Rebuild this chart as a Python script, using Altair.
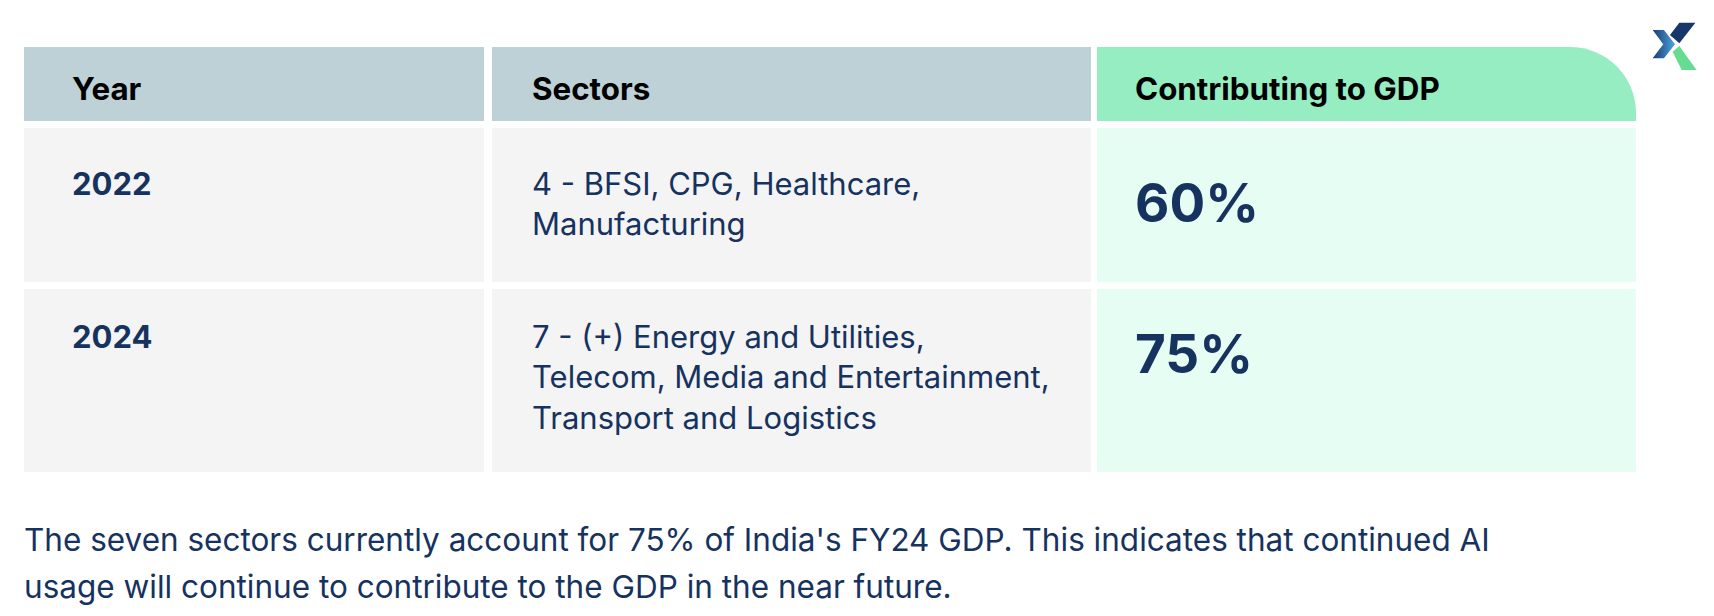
import altair as alt
import pandas as pd

# ---------------- data ----------------
headers = ["Year", "Sectors", "Contributing to GDP"]
years = ["2022", "2024"]
sectors = [
    "4 - BFSI, CPG, Healthcare,\nManufacturing",
    "7 - (+) Energy and Utilities,\nTelecom, Media and Entertainment,\nTransport and Logistics",
]
gdp_share = [60, 75]
footer = [
    "The seven sectors currently account for 75% of India's FY24 GDP. This indicates that continued AI",
    "usage will continue to contribute to the GDP in the near future.",
]

# ---------------- layout (page pixels) ----------------
W, H = 1698, 600
OFF = 8
FONT = "Inter"
NAVY = "#16325F"
FS = 31

col_edges = [(24, 484), (492, 1091), (1097, 1636)]
header_y = (47, 121)
row_y = [(128, 282), (289, 472)]
text_x = [72, 532, 1135]
header_text_y = 91
row_first_line_y = [186, 339]
pct_y = [206, 357]
line_h = 40.4
footer_y = 542
footer_lh = 47

HEAD_GRAY = "#BDD1D6"
HEAD_GREEN = "#95EDC1"
BODY_GRAY = "#F4F4F4"
BODY_GREEN = "#E6FDF4"


def cx(v):
    return v - OFF


def cy(v):
    return v - OFF


xs = alt.Scale(domain=[0, W], nice=False, zero=False)
ys = alt.Scale(domain=[0, H], nice=False, zero=False, reverse=True)


def rect_layer(df, **mark_kw):
    return alt.Chart(df).mark_rect(**mark_kw).encode(
        x=alt.X("x:Q", scale=xs, axis=None),
        x2="x2:Q",
        y=alt.Y("y:Q", scale=ys, axis=None),
        y2="y2:Q",
        color=alt.Color("fill:N", scale=None),
    )


# green header: drawn tall so that the large top-right radius is not clamped,
# then the white gap and the body cells are drawn over its lower part
gx0, gx1 = col_edges[2]
green_head_df = pd.DataFrame([dict(x=cx(gx0), x2=cx(gx1), y=cy(header_y[0]), y2=cy(header_y[0] + 200),
                                   fill=HEAD_GREEN)])
green_head = rect_layer(green_head_df, cornerRadiusTopRight=66)

gap_df = pd.DataFrame([dict(x=cx(gx0), x2=cx(gx1), y=cy(header_y[1]), y2=cy(row_y[0][0]), fill="#FFFFFF")])
gap = rect_layer(gap_df)

cells = []
for i, (x0, x1) in enumerate(col_edges[:2]):
    cells.append(dict(x=cx(x0), x2=cx(x1), y=cy(header_y[0]), y2=cy(header_y[1]), fill=HEAD_GRAY))
for r, (y0, y1) in enumerate(row_y):
    for i, (x0, x1) in enumerate(col_edges):
        cells.append(dict(x=cx(x0), x2=cx(x1), y=cy(y0), y2=cy(y1),
                          fill=BODY_GREEN if i == 2 else BODY_GRAY))
cells_df = pd.DataFrame(cells)
rects = rect_layer(cells_df)


def text_layer(df, **mark_kw):
    return alt.Chart(df).mark_text(align="left", baseline="middle", font=FONT, **mark_kw).encode(
        x=alt.X("x:Q", scale=xs, axis=None), y=alt.Y("y:Q", scale=ys, axis=None), text="t:N")


head_df = pd.DataFrame([dict(x=cx(text_x[i]), y=cy(header_text_y), t=h) for i, h in enumerate(headers)])
head_text = text_layer(head_df, fontSize=31.3, fontWeight=700, color="#000000")

year_df = pd.DataFrame([dict(x=cx(text_x[0]), y=cy(row_first_line_y[r]), t=y) for r, y in enumerate(years)])
year_text = text_layer(year_df, fontSize=FS, fontWeight=700, color=NAVY)

sec_rows = []
for r, s in enumerate(sectors):
    for k, line in enumerate(s.split("\n")):
        sec_rows.append(dict(x=cx(text_x[1]), y=cy(row_first_line_y[r] + k * line_h), t=line))
sec_text = text_layer(pd.DataFrame(sec_rows), fontSize=FS, fontWeight=400, color=NAVY)

pct_df = pd.DataFrame([dict(x=cx(text_x[2]), y=cy(pct_y[r]), t=f"{v}%") for r, v in enumerate(gdp_share)])
pct_text = text_layer(pct_df, fontSize=53, fontWeight=700, color=NAVY)

foot_df = pd.DataFrame([dict(x=cx(24), y=cy(footer_y + k * footer_lh), t=line) for k, line in enumerate(footer)])
foot_text = text_layer(foot_df, fontSize=31.5, fontWeight=400, color=NAVY)

# logo (three pieces drawn as symbol paths in a 48px box)
LOGO_C = (1675, 46)
LOGO_SIZE = 48 * 48
chevron = "M -0.93 -0.67 L -0.46 -0.67 L 0 -0.07 L -0.46 0.51 L -0.93 0.51 L -0.49 -0.07 Z"
navy_piece = "M 0.18 -0.97 L 0.85 -0.97 L 0.18 -0.11 L -0.21 -0.46 Z"
green_piece = "M -0.1 0.24 L 0.18 0 L 0.9 1 L 0.28 1 Z"
logo_df = pd.DataFrame([dict(x=cx(LOGO_C[0]), y=cy(LOGO_C[1]))])


def logo_part(path, fill):
    return alt.Chart(logo_df).mark_point(
        shape=path, size=LOGO_SIZE, filled=True, fill=fill, opacity=1, strokeWidth=0
    ).encode(x=alt.X("x:Q", scale=xs, axis=None), y=alt.Y("y:Q", scale=ys, axis=None))


logo = alt.layer(
    logo_part(chevron, alt.Gradient(gradient="linear", x1=0, y1=0, x2=1, y2=0,
                                    stops=[alt.GradientStop(offset=0, color="#1B3A6E"),
                                           alt.GradientStop(offset=1, color="#4DA3E3")])),
    logo_part(navy_piece, "#17366A"),
    logo_part(green_piece, "#66DC92"),
)

chart = alt.layer(
    green_head, gap, rects, head_text, year_text, sec_text, pct_text, foot_text, logo
).properties(
    width=W, height=H, padding=0, autosize=alt.AutoSizeParams(type="none")
).configure(
    background="#FFFFFF", view=alt.ViewConfig(stroke="transparent", strokeWidth=0)
)

chart.save("out.html", embed_options={"renderer": "svg", "actions": False})
